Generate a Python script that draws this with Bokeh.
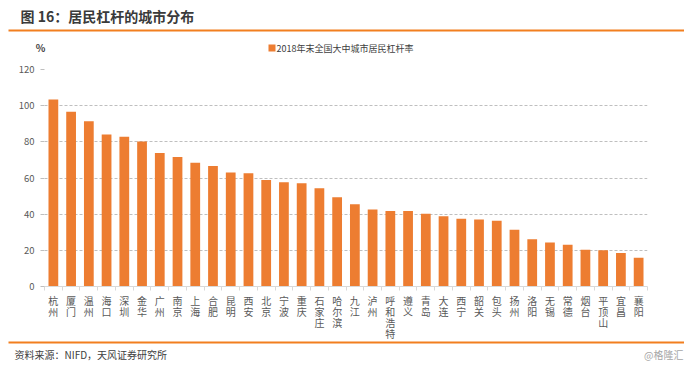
from bokeh.plotting import figure
from bokeh.layouts import column
from bokeh.models import Range1d, FixedTicker
from bokeh.core.properties import value
from bokeh.embed import file_html
from bokeh.resources import INLINE

cities = ["杭州", "厦门", "温州", "海口", "深圳", "金华", "广州", "南京", "上海", "合肥",
          "昆明", "西安", "北京", "宁波", "重庆", "石家庄", "哈尔滨", "九江", "泸州", "呼和浩特",
          "遵义", "青岛", "大连", "西宁", "韶关", "包头", "扬州", "洛阳", "无锡", "常德",
          "烟台", "平顶山", "宜昌", "襄阳"]
leverage = [103.4, 96.7, 91.4, 84.1, 82.8, 80.2, 73.8, 71.6, 68.5, 66.6,
            63.0, 62.6, 58.9, 57.6, 57.1, 54.3, 49.4, 45.5, 42.6, 41.8,
            41.8, 40.2, 38.9, 37.4, 37.1, 36.3, 31.4, 26.1, 24.4, 23.1,
            20.3, 20.0, 18.5, 15.9]
y_ticks = [0, 20, 40, 60, 80, 100, 120]
series_name = "2018年末全国大中城市居民杠杆率"
title_text = "图 16：居民杠杆的城市分布"
unit_text = "%"
source_text = "资料来源：NIFD，天风证券研究所"
watermark = "@格隆汇"

W = 684
ORANGE = "#ED7D31"
LINE_ORANGE = "#F27F1F"
CJK = "Noto Sans CJK SC"

# ---------- header ----------
HT = 60
top = figure(width=W, height=HT, output_backend="svg", toolbar_location=None,
             x_range=Range1d(0, W), y_range=Range1d(HT, 0),
             x_axis_location=None, y_axis_location=None,
             min_border=0, outline_line_color=None)
top.frame_align = False
top.grid.visible = False
top.text(x=[20], y=[15], text=[title_text], text_font=value(CJK), text_font_size="14px",
         text_font_style="bold", text_color="#3a3a3a", text_baseline="middle", text_align="left")
top.quad(left=[8], right=[684], top=[29], bottom=[31], fill_color=LINE_ORANGE, line_color=None)
top.text(x=[40], y=[47], text=[unit_text], text_font=value(CJK), text_font_size="10px",
         text_font_style="bold", text_color="#404040", text_baseline="middle", text_align="center")
top.rect(x=[271.5], y=[47.5], width=7, height=7, fill_color=ORANGE, line_color=None)
top.text(x=[276], y=[47.5], text=[series_name], text_font=value(CJK), text_font_size="9px",
         text_color="#404040", text_baseline="middle", text_align="left")

# ---------- main chart ----------
idx = list(range(len(cities)))
p = figure(width=W, height=294, output_backend="svg", toolbar_location=None,
           x_range=Range1d(-0.5, len(cities) - 0.5), y_range=Range1d(0, 120),
           min_border_left=44, min_border_right=37, min_border_top=9, min_border_bottom=68,
           outline_line_color=None)
p.frame_align = False
p.vbar(x=idx, top=leverage, width=0.55, fill_color=ORANGE, line_color=None)

p.xgrid.visible = False
p.ygrid.grid_line_color = "#bfbfbf"
p.ygrid.grid_line_dash = "3 2"
p.ygrid.grid_line_width = 1

p.yaxis.ticker = FixedTicker(ticks=y_ticks)
p.yaxis.axis_line_color = None
p.yaxis.major_tick_out = 4
p.yaxis.major_tick_in = 0
p.yaxis.major_tick_line_color = "#bfbfbf"
p.yaxis.minor_tick_line_color = None
p.yaxis.major_label_standoff = 6
p.yaxis.major_label_text_font = CJK
p.yaxis.major_label_text_font_size = "9.5px"
p.yaxis.major_label_text_color = "#595959"

p.xaxis.ticker = FixedTicker(ticks=idx, minor_ticks=[i - 0.5 for i in idx] + [len(cities) - 0.5])
p.xaxis.major_label_overrides = {i: "\n".join(c) for i, c in enumerate(cities)}
p.xaxis.axis_line_color = "#d9d9d9"
p.xaxis.major_tick_line_color = None
p.xaxis.major_tick_out = 0
p.xaxis.major_tick_in = 0
p.xaxis.minor_tick_line_color = "#d9d9d9"
p.xaxis.minor_tick_out = 4
p.xaxis.minor_tick_in = 0
p.xaxis.major_label_standoff = 2
p.xaxis.major_label_text_font = CJK
p.xaxis.major_label_text_font_size = "10px"
p.xaxis.major_label_text_color = "#595959"
p.xaxis.major_label_text_line_height = 0.75

# ---------- footer (overlaps the empty bottom margin of the chart) ----------
HB = 24
bot = figure(width=W, height=HB, output_backend="svg", toolbar_location=None,
             x_range=Range1d(0, W), y_range=Range1d(HB, 0),
             x_axis_location=None, y_axis_location=None,
             min_border=0, outline_line_color=None,
             background_fill_alpha=0, border_fill_alpha=0)
bot.frame_align = False
bot.margin = (-15, 0, 0, 0)
bot.grid.visible = False
bot.quad(left=[8], right=[684], top=[2], bottom=[4], fill_color=LINE_ORANGE, line_color=None)
bot.text(x=[14], y=[15], text=[source_text], text_font=value(CJK), text_font_size="10px",
         text_color="#404040", text_baseline="middle", text_align="left")
bot.text(x=[683], y=[15], text=[watermark], text_font=value(CJK), text_font_size="10px",
         text_color="#a6a6a6", text_baseline="middle", text_align="right")

layout = column(top, p, bot, spacing=0)
open("out.html", "w").write(file_html(layout, INLINE))
